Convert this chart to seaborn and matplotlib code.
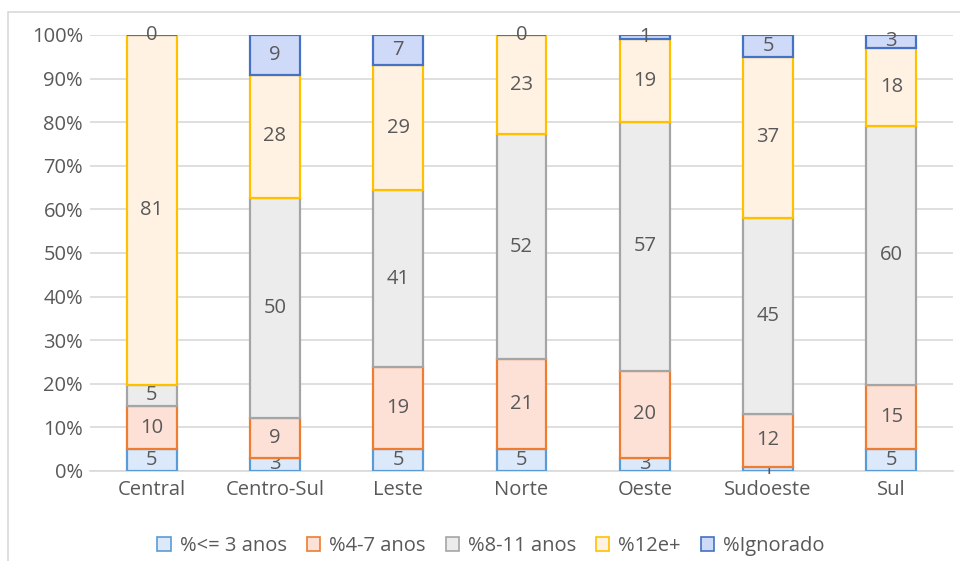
import numpy as np
import pandas as pd
import matplotlib
matplotlib.use("Agg")
import matplotlib.pyplot as plt
from matplotlib.patches import Patch, Rectangle
import seaborn as sns

# dados (percentuais arredondados, como nos rótulos)
regioes = ["Central", "Centro-Sul", "Leste", "Norte", "Oeste", "Sudoeste", "Sul"]
series = ["%<= 3 anos", "%4-7 anos", "%8-11 anos", "%12e+", "%Ignorado"]
ate3 = [5, 3, 5, 5, 3, 1, 5]
de4a7 = [10, 9, 19, 21, 20, 12, 15]
de8a11 = [5, 50, 41, 52, 57, 45, 60]
mais12 = [81, 28, 29, 23, 19, 37, 18]
ignorado = [0, 9, 7, 0, 1, 5, 3]

fills = ["#dce9fb", "#fde1d6", "#ececec", "#fff2e3", "#cfdaf9"]
edges = ["#5b9bd5", "#ed7d31", "#a5a5a5", "#ffc000", "#4472c4"]
texto = "#595959"

sns.set_style("white")
plt.rcParams["font.family"] = ["Open Sans", "DejaVu Sans"]

valores = np.array([ate3, de4a7, de8a11, mais12, ignorado], dtype=float)
frac = valores / valores.sum(axis=0)

fig = plt.figure(figsize=(9.6, 5.61), dpi=100)
ax = fig.add_axes([90 / 960, 1 - 471 / 561, 863 / 960, 436 / 561])

base = np.zeros(len(regioes))
for i, nome in enumerate(series):
    df = pd.DataFrame({"regiao": regioes, "valor": frac[i]})
    sns.barplot(data=df, x="regiao", y="valor", order=regioes, ax=ax,
                bottom=base, width=0.405, color=fills[i], saturation=1,
                edgecolor=edges[i], linewidth=1.6, errorbar=None, zorder=3)
    cont = ax.containers[-1]
    ax.bar_label(cont, labels=[str(int(v)) for v in valores[i]],
                 label_type="center", color=texto, fontsize=14.5)
    base = base + frac[i]

ax.set_ylim(0, 1)
ax.set_xlim(-0.5, len(regioes) - 0.5)
ax.set_yticks(np.arange(0, 1.01, 0.1))
ax.set_yticklabels([f"{int(round(t * 100))}%" for t in np.arange(0, 1.01, 0.1)])
ax.yaxis.grid(True, color="#d9d9d9", linewidth=1.2, zorder=0)
ax.set_axisbelow(True)
for s in ["top", "right", "left"]:
    ax.spines[s].set_visible(False)
ax.spines["bottom"].set_color("#d9d9d9")
ax.spines["bottom"].set_linewidth(1.2)
ax.tick_params(axis="both", length=0, colors=texto, labelsize=14.5)
ax.tick_params(axis="x", pad=6.5)
ax.tick_params(axis="y", pad=5)
ax.set_xlabel("")
ax.set_ylabel("")

handles = [Patch(facecolor=fills[i], edgecolor=edges[i], linewidth=1.2, label=s)
           for i, s in enumerate(series)]
fig.legend(handles=handles, loc="center", bbox_to_anchor=(491 / 960, 1 - 546 / 561),
           ncol=5, frameon=False, fontsize=14.5, labelcolor=texto,
           handlelength=0.65, handleheight=0.65, handletextpad=0.45,
           columnspacing=1.0)

# moldura do gráfico
fig.patches.append(Rectangle((8 / 960, -0.05), 1.0, 1 - 12 / 561 + 0.05,
                             transform=fig.transFigure, fill=False,
                             edgecolor="#d9d9d9", linewidth=1.2))

fig.savefig("out.png", dpi=100)
